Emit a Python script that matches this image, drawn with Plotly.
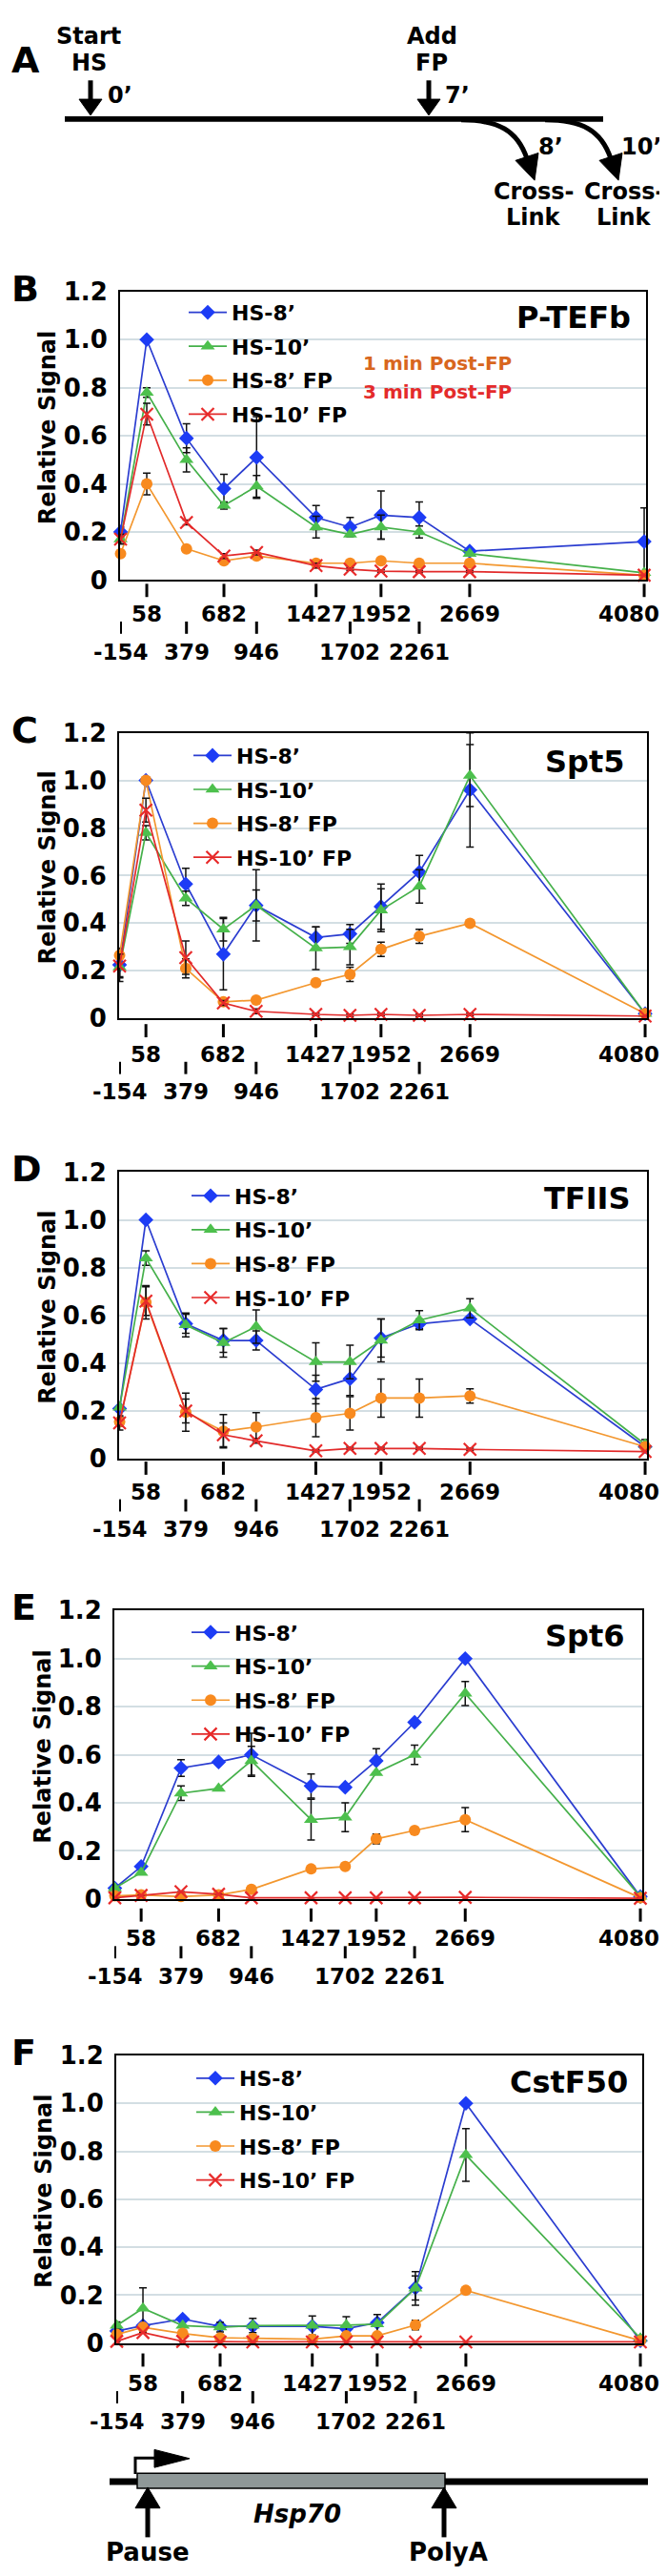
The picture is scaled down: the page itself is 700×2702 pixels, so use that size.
import plotly.graph_objects as go

W, H = 700, 2702

# ---------------- data ----------------
positions = [-154, 58, 379, 682, 946, 1427, 1702, 1952, 2261, 2669, 4080]
row1_ticks = [58, 682, 1427, 1952, 2669, 4080]
row2_ticks = [-154, 379, 946, 1702, 2261]
y_tickvals = [0, 0.2, 0.4, 0.6, 0.8, 1.0, 1.2]
y_ticktext = ["0", "0.2", "0.4", "0.6", "0.8", "1.0", "1.2"]
series_names = ["HS-8’", "HS-10’", "HS-8’ FP", "HS-10’ FP"]
panel_titles = ["P-TEFb", "Spt5", "TFIIS", "Spt6", "CstF50"]
panel_letters = ["B", "C", "D", "E", "F"]

# B: P-TEFb
ptefb_hs8 = [0.20, 1.00, 0.59, 0.38, 0.51, 0.26, 0.22, 0.27, 0.26, 0.12, 0.16]
ptefb_hs8_err = [0.02, None, 0.06, 0.06, 0.17, 0.05, 0.04, 0.10, 0.065, None, 0.14]
ptefb_hs10 = [0.17, 0.78, 0.50, 0.31, 0.39, 0.22, 0.19, 0.22, 0.20, 0.11, 0.03]
ptefb_hs10_err = [0.02, 0.02, 0.05, 0.015, 0.045, 0.045, None, 0.05, 0.025, None, None]
ptefb_hs8fp = [0.11, 0.40, 0.13, 0.08, 0.10, 0.07, 0.07, 0.08, 0.07, 0.07, 0.02]
ptefb_hs8fp_err = [None, 0.045, 0.01, 0.01, 0.01, 0.01, 0.01, 0.01, 0.01, 0.01, None]
ptefb_hs10fp = [0.17, 0.69, 0.24, 0.10, 0.115, 0.06, 0.045, 0.037, 0.035, 0.035, 0.02]
ptefb_hs10fp_err = [0.02, 0.045, 0.01, 0.01, 0.01, 0.01, 0.005, 0.005, 0.005, 0.005, None]

# C: Spt5
spt5_hs8 = [0.225, 1.00, 0.565, 0.27, 0.475, 0.34, 0.355, 0.47, 0.615, 0.96, 0.02]
spt5_hs8_err = [0.07, None, 0.066, 0.15, 0.15, 0.045, 0.04, 0.095, 0.07, 0.24, None]
spt5_hs10 = [0.215, 0.78, 0.505, 0.375, 0.475, 0.295, 0.30, 0.455, 0.555, 1.02, 0.02]
spt5_hs10_err = [0.04, 0.03, 0.03, 0.05, 0.065, 0.09, 0.075, 0.09, 0.07, 0.13, None]
spt5_hs8fp = [0.265, 1.00, 0.21, 0.07, 0.077, 0.15, 0.185, 0.29, 0.345, 0.40, 0.02]
spt5_hs8fp_err = [None, None, 0.04, None, None, None, 0.03, 0.03, 0.03, None, None]
spt5_hs10fp = [0.22, 0.875, 0.255, 0.065, 0.03, 0.017, 0.013, 0.017, 0.013, 0.017, 0.01]
spt5_hs10fp_err = [0.05, 0.05, 0.07, 0.01, 0.01, 0.005, 0.005, 0.005, 0.005, 0.005, None]

# D: TFIIS
tfiis_hs8 = [0.21, 1.00, 0.565, 0.495, 0.495, 0.29, 0.335, 0.505, 0.565, 0.585, 0.05]
tfiis_hs8_err = [None, None, 0.04, 0.05, 0.04, 0.06, 0.07, 0.08, 0.02, None, None]
tfiis_hs10 = [0.215, 0.84, 0.56, 0.485, 0.553, 0.405, 0.405, 0.495, 0.58, 0.63, 0.06]
tfiis_hs10_err = [None, 0.03, 0.05, 0.06, 0.07, 0.08, 0.07, 0.09, 0.04, 0.04, 0.02]
tfiis_hs8fp = [0.155, 0.655, 0.195, 0.115, 0.133, 0.172, 0.19, 0.254, 0.254, 0.263, 0.05]
tfiis_hs8fp_err = [0.02, 0.07, 0.08, 0.07, 0.06, 0.08, 0.07, 0.08, 0.08, 0.03, None]
tfiis_hs10fp = [0.15, 0.66, 0.20, 0.10, 0.075, 0.033, 0.043, 0.043, 0.043, 0.039, 0.03]
tfiis_hs10fp_err = [0.03, 0.06, 0.05, 0.05, 0.01, 0.005, 0.005, 0.005, 0.005, 0.005, None]

# E: Spt6
spt6_hs8 = [0.045, 0.135, 0.545, 0.57, 0.60, 0.47, 0.465, 0.575, 0.735, 1.00, 0.01]
spt6_hs8_err = [None, None, 0.035, None, 0.09, 0.05, None, 0.05, None, None, None]
spt6_hs10 = [0.045, 0.11, 0.44, 0.46, 0.575, 0.33, 0.34, 0.525, 0.60, 0.855, 0.01]
spt6_hs10_err = [None, None, 0.03, None, 0.06, 0.085, 0.06, None, 0.04, 0.05, None]
spt6_hs8fp = [0.013, 0.017, 0.01, 0.017, 0.04, 0.125, 0.135, 0.25, 0.285, 0.33, 0.005]
spt6_hs8fp_err = [None, None, None, None, None, None, None, 0.02, None, 0.05, None]
spt6_hs10fp = [0.005, 0.015, 0.03, 0.02, 0.005, 0.005, 0.005, 0.005, 0.005, 0.007, 0.003]
spt6_hs10fp_err = [None] * 11

# F: CstF50
cstf50_hs8 = [0.05, 0.073, 0.10, 0.07, 0.07, 0.07, 0.06, 0.085, 0.23, 1.00, 0.01]
cstf50_hs8_err = [None, None, None, None, None, None, None, None, 0.05, None, None]
cstf50_hs10 = [0.073, 0.145, 0.073, 0.066, 0.073, 0.073, 0.075, 0.079, 0.228, 0.785, 0.02]
cstf50_hs10_err = [0.015, 0.085, None, 0.02, 0.03, 0.04, 0.035, 0.04, 0.07, 0.11, None]
cstf50_hs8fp = [0.036, 0.066, 0.04, 0.022, 0.02, 0.016, 0.03, 0.03, 0.075, 0.22, 0.01]
cstf50_hs8fp_err = [None, None, None, None, None, None, None, None, 0.02, 0.01, None]
cstf50_hs10fp = [0.007, 0.044, 0.007, 0.005, 0.005, 0.005, 0.005, 0.005, 0.005, 0.005, 0.005]
cstf50_hs10fp_err = [None] * 11

panel_data = [
    [(ptefb_hs8, ptefb_hs8_err), (ptefb_hs10, ptefb_hs10_err), (ptefb_hs8fp, ptefb_hs8fp_err), (ptefb_hs10fp, ptefb_hs10fp_err)],
    [(spt5_hs8, spt5_hs8_err), (spt5_hs10, spt5_hs10_err), (spt5_hs8fp, spt5_hs8fp_err), (spt5_hs10fp, spt5_hs10fp_err)],
    [(tfiis_hs8, tfiis_hs8_err), (tfiis_hs10, tfiis_hs10_err), (tfiis_hs8fp, tfiis_hs8fp_err), (tfiis_hs10fp, tfiis_hs10fp_err)],
    [(spt6_hs8, spt6_hs8_err), (spt6_hs10, spt6_hs10_err), (spt6_hs8fp, spt6_hs8fp_err), (spt6_hs10fp, spt6_hs10fp_err)],
    [(cstf50_hs8, cstf50_hs8_err), (cstf50_hs10, cstf50_hs10_err), (cstf50_hs8fp, cstf50_hs8fp_err), (cstf50_hs10fp, cstf50_hs10fp_err)],
]

# ---------------- layout geometry (pixels) ----------------
geom = [
    dict(l=118, r=670, t=286, b=592, lab=36, leg_x=185, leg_y=287, title_y=313, title_r=656, ylab_x=42),
    dict(l=117, r=671, t=754, b=1057, lab=38, leg_x=190, leg_y=757, title_y=785, title_r=650, ylab_x=42),
    dict(l=117, r=671, t=1220, b=1524, lab=35, leg_x=188, leg_y=1224, title_y=1248, title_r=656, ylab_x=42),
    dict(l=112, r=666, t=1685, b=1991, lab=42, leg_x=188, leg_y=1687, title_y=1712, title_r=650, ylab_x=37),
    dict(l=114, r=666, t=2157, b=2462, lab=43, leg_x=193, leg_y=2160, title_y=2185, title_r=653, ylab_x=38),
]


def px(x):
    return x / W


def py(y):
    return 1 - y / H


FONT = "DejaVu Sans, Verdana, sans-serif"
line_colors = ["#2b3dd0", "#45b04a", "#f3972f", "#e22a2a"]
markers = [
    dict(symbol="diamond", size=12, color="#1d3cf5", line=dict(width=0)),
    dict(symbol="triangle-up", size=13, color="#4dc04d", line=dict(width=0)),
    dict(symbol="circle", size=12, color="#f88a1f", line=dict(width=0)),
    dict(symbol="x-thin", size=13, color="#e82a2a", line=dict(width=2.2, color="#e82a2a")),
]

fig = go.Figure()
shapes = []
annotations = []
layout = dict(
    width=W, height=H,
    margin=dict(l=0, r=0, t=0, b=0),
    paper_bgcolor="white", plot_bgcolor="white",
    font=dict(family=FONT, color="black", weight="bold"),
    showlegend=True,
)

for i, g in enumerate(geom):
    k = i + 1
    xs = "x" if k == 1 else f"x{k}"
    ys = "y" if k == 1 else f"y{k}"
    lg = "legend" if k == 1 else f"legend{k}"
    for j, (vals, errs) in enumerate(panel_data[i]):
        fig.add_trace(go.Scatter(
            x=positions, y=vals, name=series_names[j],
            mode="lines+markers", xaxis=xs, yaxis=ys, legend=lg,
            legendgroup=f"p{k}s{j}",
            line=dict(color=line_colors[j], width=1.7),
            marker=markers[j], cliponaxis=False,
            error_y=dict(type="data", array=errs, symmetric=True, color="#111111",
                         thickness=1.5, width=4, visible=True),
        ))
    layout["xaxis" if k == 1 else f"xaxis{k}"] = dict(
        domain=[px(g["l"]), px(g["r"])], anchor=ys, range=[-158, 4095],
        showgrid=False, zeroline=False, showticklabels=False, ticks="",
        showline=True, mirror=True, linecolor="black", linewidth=2,
    )
    layout["yaxis" if k == 1 else f"yaxis{k}"] = dict(
        domain=[py(g["b"]), py(g["t"])], anchor=xs, range=[0, 1.2],
        tickvals=y_tickvals, ticktext=y_ticktext, ticks="",
        tickfont=dict(size=26, family=FONT, weight="bold"), ticklabelstandoff=6,
        showgrid=True, gridcolor="#d3dee3", gridwidth=2, zeroline=False,
        showline=True, mirror=True, linecolor="black", linewidth=2,
    )
    layout[lg] = dict(
        x=px(g["leg_x"]), y=py(g["leg_y"]), xanchor="left", yanchor="top",
        bgcolor="rgba(0,0,0,0)", borderwidth=0, itemwidth=40,
        font=dict(size=22, family=FONT, color="black", weight="bold"),
        tracegroupgap=4,
    )
    # x tick marks and labels (two staggered rows)
    lab1 = g["b"] + g["lab"]
    for t in row1_ticks:
        shapes.append(dict(type="line", xref=xs, yref="paper", x0=t, x1=t,
                           y0=py(lab1 - 32), y1=py(lab1 - 18), line=dict(color="black", width=3)))
        annotations.append(dict(x=t, y=py(lab1), xref=xs, yref="paper", text=f"<b>{t}</b>",
                                showarrow=False, xanchor="center", yanchor="middle",
                                xshift=-(g["r"] - 654) if t == row1_ticks[-1] else 0,
                                font=dict(size=23, family=FONT, color="black")))
    for t in row2_ticks:
        shapes.append(dict(type="line", xref=xs, yref="paper", x0=t, x1=t,
                           y0=py(lab1 + 8), y1=py(lab1 + 21), line=dict(color="black", width=3)))
        annotations.append(dict(x=t, y=py(lab1 + 40), xref=xs, yref="paper", text=f"<b>{t}</b>",
                                showarrow=False, xanchor="center", yanchor="middle",
                                font=dict(size=23, family=FONT, color="black")))
    # panel letter, title, y label
    annotations.append(dict(x=px(2), y=py(g["t"] - 3), xref="paper", yref="paper",
                            text=f"<b>{panel_letters[i]}</b>", showarrow=False,
                            xanchor="left", yanchor="middle", font=dict(size=38, family=FONT)))
    annotations.append(dict(x=px(g["title_r"]), y=py(g["title_y"]), xref="paper", yref="paper",
                            text=f"<b>{panel_titles[i]}</b>", showarrow=False,
                            xanchor="right", yanchor="middle", font=dict(size=32, family=FONT)))
    annotations.append(dict(x=px(g["ylab_x"]), y=py((g["t"] + g["b"]) / 2 - 8), xref="paper", yref="paper",
                            text="<b>Relative Signal</b>", textangle=-90, showarrow=False,
                            xanchor="center", yanchor="middle", font=dict(size=24, family=FONT)))

# extra legend notes in panel B
annotations.append(dict(x=px(371), y=py(362), xref="paper", yref="paper", text="<b>1 min Post-FP</b>",
                        showarrow=False, xanchor="left", yanchor="middle",
                        font=dict(size=20, family=FONT, color="#d8661e")))
annotations.append(dict(x=px(371), y=py(392), xref="paper", yref="paper", text="<b>3 min Post-FP</b>",
                        showarrow=False, xanchor="left", yanchor="middle",
                        font=dict(size=20, family=FONT, color="#e42b2b")))


# ---------------- schematic helpers ----------------
def path_of(points, close=False):
    s = "M " + " L ".join(f"{px(x)},{py(y)}" for x, y in points)
    return s + (" Z" if close else "")


def rect(x0, y0, x1, y1, fill="black", lw=0, lc="black"):
    shapes.append(dict(type="rect", xref="paper", yref="paper",
                       x0=px(x0), x1=px(x1), y0=py(y1), y1=py(y0),
                       fillcolor=fill, line=dict(width=lw, color=lc)))


def tri(p1, p2, p3):
    shapes.append(dict(type="path", xref="paper", yref="paper", path=path_of([p1, p2, p3], True),
                       fillcolor="black", line=dict(width=1, color="black")))


def text(x, y, s, size, anchor="center", italic=False):
    t = f"<b><i>{s}</i></b>" if italic else f"<b>{s}</b>"
    annotations.append(dict(x=px(x), y=py(y), xref="paper", yref="paper", text=t,
                            showarrow=False, xanchor=anchor, yanchor="middle",
                            font=dict(size=size, family=FONT, color="black")))


# ---------------- panel A ----------------
text(2, 40, "A", 38, anchor="left")
text(85, 15, "Start", 24)
text(85, 43, "HS", 24)
text(445, 15, "Add", 24)
text(445, 43, "FP", 24)
for ax in (87, 442):
    rect(ax - 2.5, 62, ax + 2.5, 84)
    tri((ax - 12, 82), (ax + 12, 82), (ax, 99))
text(103, 78, "0’", 24, anchor="left")
text(457, 78, "7’", 24, anchor="left")
rect(60, 100, 625, 106)
for dx in (0, 88):
    shapes.append(dict(type="path", xref="paper", yref="paper",
                       path=(f"M {px(476 + dx)},{py(104)} C {px(515 + dx)},{py(104)} "
                             f"{px(535 + dx)},{py(115)} {px(545 + dx)},{py(145)}"),
                       line=dict(color="black", width=5)))
    tri((533 + dx, 147), (557 + dx, 139), (553 + dx, 168))
text(555, 132, "8’", 24, anchor="left")
text(642, 132, "10’", 24, anchor="left")
for cx in (552, 647):
    text(cx, 180, "Cross-", 24)
    text(cx, 207, "Link", 24)

# ---------------- gene diagram ----------------
rect(107, 2605.5, 672, 2612.5)
rect(136, 2600, 459, 2616, fill="#8f9898", lw=1.5)
shapes.append(dict(type="path", xref="paper", yref="paper",
                   path=path_of([(134, 2601), (134, 2584), (158, 2584)]),
                   line=dict(color="black", width=3)))
tri((154, 2575), (154, 2594), (191, 2584.5))
for ax in (147, 458):
    tri((ax, 2615), (ax - 13, 2637), (ax + 13, 2637))
    rect(ax - 2.5, 2636, ax + 2.5, 2668)
text(304, 2643, "Hsp70", 26, italic=True)
text(147, 2684, "Pause", 26)
text(462, 2684, "PolyA", 26)

layout["shapes"] = shapes
layout["annotations"] = annotations
fig.update_layout(**layout)
fig.write_html("out.html")
